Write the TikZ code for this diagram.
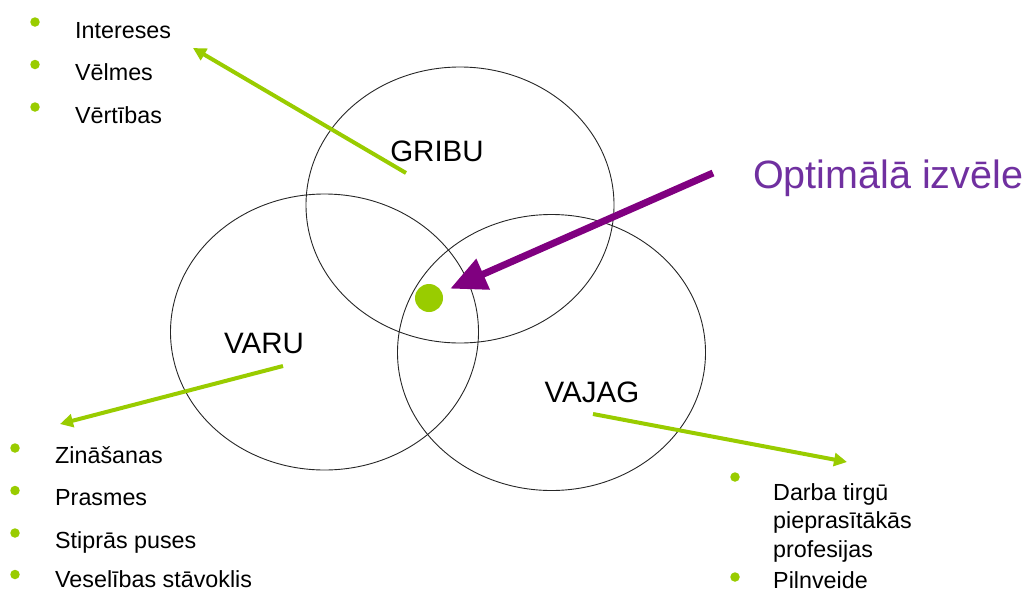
\documentclass[tikz,border=0pt]{standalone}
\usepackage{fontspec}
\setmainfont{Liberation Sans}
\usetikzlibrary{shapes.geometric,arrows.meta}
\definecolor{bulletgreen}{RGB}{153,204,0}
\definecolor{arrowplum}{RGB}{128,0,128}
\definecolor{optviolet}{RGB}{112,48,160}
\begin{document}
\begin{tikzpicture}[x=1pt,y=-1pt,set/.style={shape=ellipse,draw=black!85,line width=0.9pt,minimum width=308pt,minimum height=276pt,inner sep=0pt},setname/.style={font=\fontsize{29.5}{29.5}\selectfont},item/.style={anchor=base west,inner sep=0pt,font=\fontsize{23.3}{23.3}\selectfont},bullet/.style={shape=circle,fill=bulletgreen,minimum size=9.5pt,inner sep=0pt},garrow/.style={draw=bulletgreen,line width=4pt,-{Triangle[length=13pt,width=13pt]}},parrow/.style={draw=arrowplum,line width=7pt,-{Triangle[length=36pt,width=32pt]}}]
\def\dy{42.5};
\def\dl{28.5};
\useasboundingbox (0,0) rectangle (1030,592);

\node[set] (G) at (460,205) {};
\node[set] (V) at (324.5,332) {};
\node[set] (J) at (551.5,352.5) {};

\node[setname] (gribu) at (437,151) {GRIBU};
\node[setname] (varu) at (264,343) {VARU};
\node[setname] (vajag) at (592,392) {VAJAG};

\node[shape=circle,fill=bulletgreen,minimum size=28pt,inner sep=0pt] (dot) at (429,298) {};
\node[anchor=base west,inner sep=0pt,text=optviolet,font=\fontsize{39.5}{39.5}\selectfont] (opt) at (753,188) {Optimālā izvēle};

\node[bullet] (bI) at (35,22) {};
\node[item] (I) at (75,38) {Intereses};
\node[bullet] (bV) at (35,22+\dy) {};
\node[item] (Vm) at (75,38+\dy) {Vēlmes};
\node[bullet] (bW) at (35,22+2*\dy) {};
\node[item] (Vt) at (75,38+2*\dy) {Vērtības};

\node[bullet] (bZ) at (15,448) {};
\node[item] (Z) at (55,463) {Zināšanas};
\node[bullet] (bP) at (15,448+\dy) {};
\node[item] (P) at (55,463+\dy) {Prasmes};
\node[bullet] (bS) at (15,448+2*\dy) {};
\node[item] (S) at (55,463+2*\dy) {Stiprās puses};
\node[bullet] (bX) at (15,447+3*\dy) {};
\node[item] (X) at (55,459.5+3*\dy) {Veselības stāvoklis};

\node[bullet] (bD) at (735,477) {};
\node[item] (D1) at (773,500) {Darba tirgū};
\node[item] (D2) at (773,500+\dl) {pieprasītākās};
\node[item] (D3) at (773,500+2*\dl) {profesijas};
\node[bullet] (bL) at (735,577) {};
\node[item] (L) at (773,588) {Pilnveide};

\coordinate (tG) at (406,173);
\coordinate (hG) at (193,48);
\draw[garrow] (tG) -- (hG);
\coordinate (tV) at (283,366);
\coordinate (hV) at (60,424);
\draw[garrow] (tV) -- (hV);
\coordinate (tJ) at (593,414);
\coordinate (hJ) at (847,462);
\draw[garrow] (tJ) -- (hJ);
\coordinate (tO) at (713,173);
\draw[parrow,shorten >=9pt] (tO) -- (dot);
\end{tikzpicture}
\end{document}
